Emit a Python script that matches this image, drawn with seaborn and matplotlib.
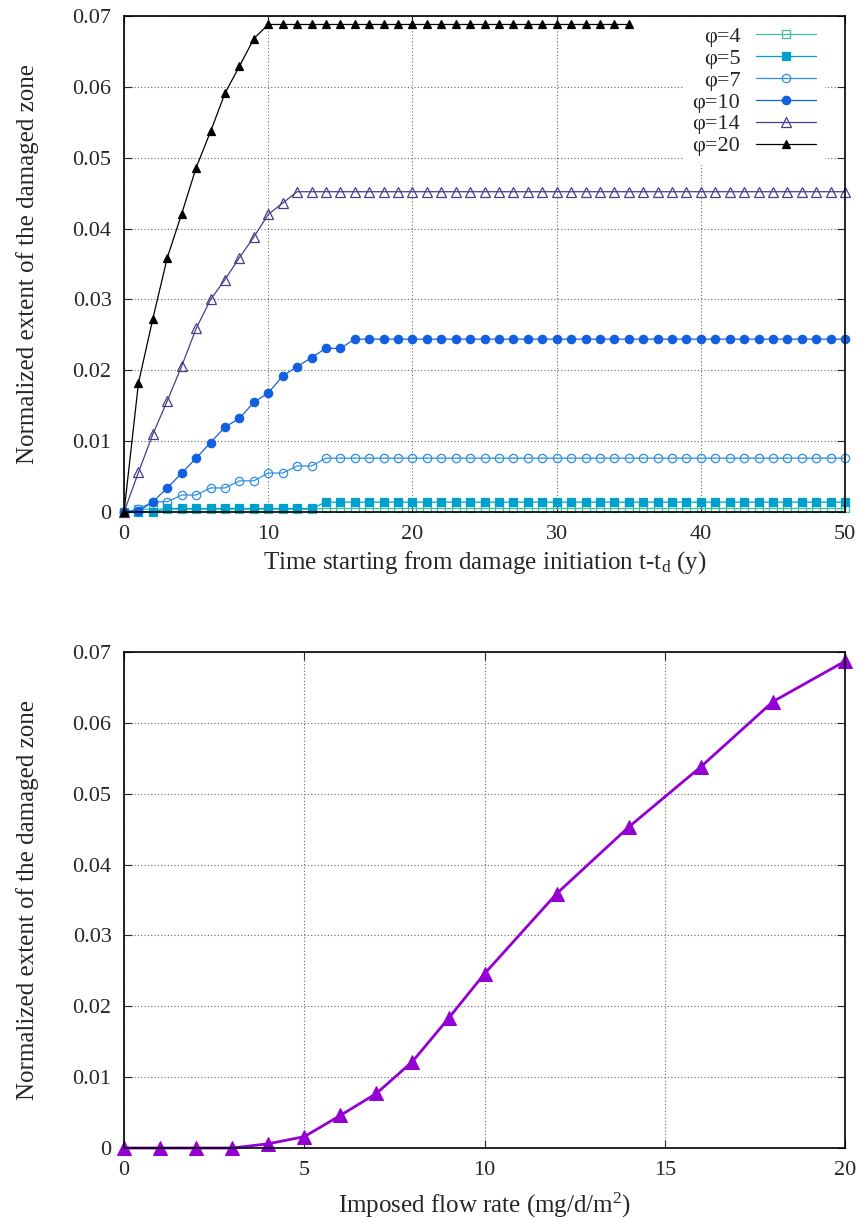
import numpy as np
import pandas as pd
import matplotlib
matplotlib.use("Agg")
import matplotlib.pyplot as plt
import seaborn as sns

# --- data ---
t = list(range(0, 51))
t20 = list(range(0, 36))

phi4 = [0.0] + [0.0004] * 13 + [0.0005] * 37
phi5 = [0.0, 0.0, 0.0] + [0.0005] * 11 + [0.0014] * 37
phi7 = [0.0, 0.0004, 0.00145, 0.00145, 0.0024, 0.0024, 0.0034, 0.0034, 0.0044, 0.0044,
        0.0055, 0.0055, 0.0065, 0.0065] + [0.0076] * 37
phi10 = [0.0, 0.0001, 0.00145, 0.0034, 0.0055, 0.0076, 0.0098, 0.0120, 0.0132, 0.0155,
         0.0168, 0.0192, 0.0205, 0.0218, 0.0231, 0.0231] + [0.0244] * 35
phi14 = [0.0, 0.0056, 0.0110, 0.0157, 0.0206, 0.0259, 0.0300, 0.0328, 0.0359, 0.0388,
         0.0420, 0.0436] + [0.0452] * 39
phi20 = [0.0, 0.0182, 0.0273, 0.0359, 0.0421, 0.0486, 0.0537, 0.0591, 0.0629, 0.0668] + [0.0688] * 26

flow = [0, 1, 2, 3, 4, 5, 6, 7, 8, 9, 10, 12, 14, 16, 18, 20]
extent = [0.0, 0.0, 0.0, 0.0, 0.0006, 0.0016, 0.0046, 0.0077, 0.0122, 0.0183, 0.0246,
          0.0359, 0.0453, 0.0538, 0.0630, 0.0687]

ytick_labels = ["0", "0.01", "0.02", "0.03", "0.04", "0.05", "0.06", "0.07"]

series = [
    ("φ=4", t, phi4, "#3fbf9f", "s", False, 6),
    ("φ=5", t, phi5, "#00a0cc", "s", True, 6),
    ("φ=7", t, phi7, "#2f8fe0", "o", False, 6),
    ("φ=10", t, phi10, "#1260e0", "o", True, 6),
    ("φ=14", t, phi14, "#483d8b", "^", False, 6.5),
    ("φ=20", t20, phi20, "#000000", "^", True, 5.5),
]

sns.set_style("ticks")
plt.rcParams["font.family"] = ["Liberation Serif", "DejaVu Serif"]
plt.rcParams["mathtext.fontset"] = "custom"
plt.rcParams["mathtext.rm"] = "Liberation Serif"
plt.rcParams["mathtext.it"] = "Liberation Serif:italic"
plt.rcParams["font.size"] = 16

fig = plt.figure(figsize=(8.59, 12.2), dpi=100)
ax1 = fig.add_axes([0.1444, 0.5803, 0.8394, 0.4066])
ax2 = fig.add_axes([0.1444, 0.0590, 0.8394, 0.4066])


def style_axes(ax):
    ax.grid(True, linestyle=(0, (1, 2)), color="#666666", linewidth=0.8)
    ax.tick_params(direction="in", top=True, right=True, length=6, width=0.8,
                   labelsize=16, pad=9)
    for s in ax.spines.values():
        s.set_linewidth(1.2)
        s.set_color("black")
    ax.set_axisbelow(True)


for name, x, y, col, mk, filled, ms in series:
    df = pd.DataFrame({"x": x, "y": y})
    sns.lineplot(data=df, x="x", y="y", ax=ax1, color=col, marker=mk, label=name,
                 linewidth=0.9, markersize=ms,
                 markerfacecolor=col if filled else "none", markeredgecolor=col,
                 markeredgewidth=0.9, clip_on=False, legend=False)

ax1.set_xlim(0, 50)
ax1.set_ylim(0, 0.07)
ax1.set_xticks([0, 10, 20, 30, 40, 50])
ax1.set_yticks(np.arange(0, 0.071, 0.01))
ax1.set_yticklabels(ytick_labels)
ax1.set_xlabel("Time starting from damage initiation t-t$_\\mathrm{d}$ (y)", fontsize=18, labelpad=4)
ax1.set_ylabel("Normalized extent of the damaged zone", fontsize=18, labelpad=24)
style_axes(ax1)
leg = ax1.legend(loc="upper right", bbox_to_anchor=(0.978, 1.006), markerfirst=False,
                 fontsize=16, handlelength=2.7, labelspacing=0.06, handletextpad=0.7,
                 borderaxespad=0.2, frameon=True, fancybox=False, framealpha=1)
leg.get_frame().set_linewidth(0)

df2 = pd.DataFrame({"flow": flow, "extent": extent})
sns.lineplot(data=df2, x="flow", y="extent", ax=ax2, color="#9400d3", marker="^",
             linewidth=2, markersize=10, markeredgecolor="#9400d3",
             markerfacecolor="#9400d3", clip_on=False)
ax2.set_xlim(0, 20)
ax2.set_ylim(0, 0.07)
ax2.set_xticks([0, 5, 10, 15, 20])
ax2.set_yticks(np.arange(0, 0.071, 0.01))
ax2.set_yticklabels(ytick_labels)
ax2.set_xlabel("Imposed flow rate (mg/d/m$^2$)", fontsize=18, labelpad=8)
ax2.set_ylabel("Normalized extent of the damaged zone", fontsize=18, labelpad=24)
style_axes(ax2)

fig.savefig("out.png", dpi=100)
